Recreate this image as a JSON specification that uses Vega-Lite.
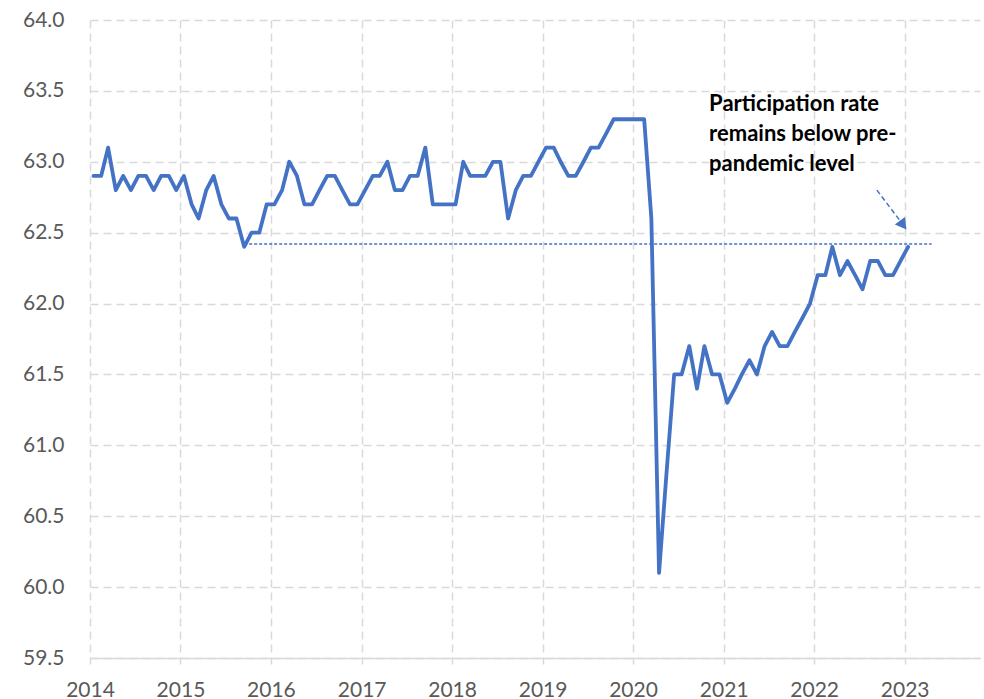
{
  "$schema": "https://vega.github.io/schema/vega-lite/v6.json",
  "width": 890,
  "height": 638,
  "autosize": {"type": "none"},
  "padding": {"left": 90, "top": 20, "right": 4, "bottom": 41},
  "background": "white",
  "config": {"view": {"stroke": null}, "font": "Lato"},
  "datasets": {
    "lfpr": [
      {"date":"2014-01-15","rate":62.9},{"date":"2014-02-15","rate":62.9},{"date":"2014-03-15","rate":63.1},{"date":"2014-04-15","rate":62.8},{"date":"2014-05-15","rate":62.9},{"date":"2014-06-15","rate":62.8},{"date":"2014-07-15","rate":62.9},{"date":"2014-08-15","rate":62.9},{"date":"2014-09-15","rate":62.8},{"date":"2014-10-15","rate":62.9},{"date":"2014-11-15","rate":62.9},{"date":"2014-12-15","rate":62.8},
      {"date":"2015-01-15","rate":62.9},{"date":"2015-02-15","rate":62.7},{"date":"2015-03-15","rate":62.6},{"date":"2015-04-15","rate":62.8},{"date":"2015-05-15","rate":62.9},{"date":"2015-06-15","rate":62.7},{"date":"2015-07-15","rate":62.6},{"date":"2015-08-15","rate":62.6},{"date":"2015-09-15","rate":62.4},{"date":"2015-10-15","rate":62.5},{"date":"2015-11-15","rate":62.5},{"date":"2015-12-15","rate":62.7},
      {"date":"2016-01-15","rate":62.7},{"date":"2016-02-15","rate":62.8},{"date":"2016-03-15","rate":63.0},{"date":"2016-04-15","rate":62.9},{"date":"2016-05-15","rate":62.7},{"date":"2016-06-15","rate":62.7},{"date":"2016-07-15","rate":62.8},{"date":"2016-08-15","rate":62.9},{"date":"2016-09-15","rate":62.9},{"date":"2016-10-15","rate":62.8},{"date":"2016-11-15","rate":62.7},{"date":"2016-12-15","rate":62.7},
      {"date":"2017-01-15","rate":62.8},{"date":"2017-02-15","rate":62.9},{"date":"2017-03-15","rate":62.9},{"date":"2017-04-15","rate":63.0},{"date":"2017-05-15","rate":62.8},{"date":"2017-06-15","rate":62.8},{"date":"2017-07-15","rate":62.9},{"date":"2017-08-15","rate":62.9},{"date":"2017-09-15","rate":63.1},{"date":"2017-10-15","rate":62.7},{"date":"2017-11-15","rate":62.7},{"date":"2017-12-15","rate":62.7},
      {"date":"2018-01-15","rate":62.7},{"date":"2018-02-15","rate":63.0},{"date":"2018-03-15","rate":62.9},{"date":"2018-04-15","rate":62.9},{"date":"2018-05-15","rate":62.9},{"date":"2018-06-15","rate":63.0},{"date":"2018-07-15","rate":63.0},{"date":"2018-08-15","rate":62.6},{"date":"2018-09-15","rate":62.8},{"date":"2018-10-15","rate":62.9},{"date":"2018-11-15","rate":62.9},{"date":"2018-12-15","rate":63.0},
      {"date":"2019-01-15","rate":63.1},{"date":"2019-02-15","rate":63.1},{"date":"2019-03-15","rate":63.0},{"date":"2019-04-15","rate":62.9},{"date":"2019-05-15","rate":62.9},{"date":"2019-06-15","rate":63.0},{"date":"2019-07-15","rate":63.1},{"date":"2019-08-15","rate":63.1},{"date":"2019-09-15","rate":63.2},{"date":"2019-10-15","rate":63.3},{"date":"2019-11-15","rate":63.3},{"date":"2019-12-15","rate":63.3},
      {"date":"2020-01-15","rate":63.3},{"date":"2020-02-15","rate":63.3},{"date":"2020-03-15","rate":62.6},{"date":"2020-04-15","rate":60.1},{"date":"2020-05-15","rate":60.8},{"date":"2020-06-15","rate":61.5},{"date":"2020-07-15","rate":61.5},{"date":"2020-08-15","rate":61.7},{"date":"2020-09-15","rate":61.4},{"date":"2020-10-15","rate":61.7},{"date":"2020-11-15","rate":61.5},{"date":"2020-12-15","rate":61.5},
      {"date":"2021-01-15","rate":61.3},{"date":"2021-02-15","rate":61.4},{"date":"2021-03-15","rate":61.5},{"date":"2021-04-15","rate":61.6},{"date":"2021-05-15","rate":61.5},{"date":"2021-06-15","rate":61.7},{"date":"2021-07-15","rate":61.8},{"date":"2021-08-15","rate":61.7},{"date":"2021-09-15","rate":61.7},{"date":"2021-10-15","rate":61.8},{"date":"2021-11-15","rate":61.9},{"date":"2021-12-15","rate":62.0},
      {"date":"2022-01-15","rate":62.2},{"date":"2022-02-15","rate":62.2},{"date":"2022-03-15","rate":62.4},{"date":"2022-04-15","rate":62.2},{"date":"2022-05-15","rate":62.3},{"date":"2022-06-15","rate":62.2},{"date":"2022-07-15","rate":62.1},{"date":"2022-08-15","rate":62.3},{"date":"2022-09-15","rate":62.3},{"date":"2022-10-15","rate":62.2},{"date":"2022-11-15","rate":62.2},{"date":"2022-12-15","rate":62.3},
      {"date":"2023-01-15","rate":62.4}
    ],
    "refline": [{"date":"2015-09-15","date2":"2023-04-20","rate":62.42}],
    "arrow": [{"date":"2022-09-11","rate":62.80},{"date":"2022-12-12","rate":62.587}],
    "arrowhead": [{"date":"2022-12-26","rate":62.553}],
    "note": [{"date":"2020-11-03","rate":63.36,"label":"Participation rate\nremains below pre-\npandemic level"}]
  },
  "layer": [
    {
      "data": {"name": "lfpr"},
      "mark": {"type": "line", "color": "#4472C4", "strokeWidth": 3.8, "strokeJoin": "round", "strokeCap": "round"},
      "encoding": {
        "x": {
          "field": "date", "type": "temporal",
          "scale": {"type": "utc", "domain": [{"year": 2014, "month": 1, "date": 1, "utc": true}, {"year": 2023, "month": 11, "date": 1, "utc": true}]},
          "axis": {
            "title": null, "format": "%Y",
            "values": [
              {"year": 2014, "month": 1, "date": 1, "utc": true},{"year": 2015, "month": 1, "date": 1, "utc": true},{"year": 2016, "month": 1, "date": 1, "utc": true},{"year": 2017, "month": 1, "date": 1, "utc": true},{"year": 2018, "month": 1, "date": 1, "utc": true},{"year": 2019, "month": 1, "date": 1, "utc": true},{"year": 2020, "month": 1, "date": 1, "utc": true},{"year": 2021, "month": 1, "date": 1, "utc": true},{"year": 2022, "month": 1, "date": 1, "utc": true},{"year": 2023, "month": 1, "date": 1, "utc": true}
            ],
            "grid": true, "gridDash": [8, 5], "gridColor": "#D9D9D9", "gridWidth": 1.5,
            "domainColor": "#D9D9D9", "domainWidth": 1.5,
            "ticks": true, "tickColor": "#D9D9D9", "tickSize": 6, "tickWidth": 1.5,
            "labelFont": "Lato", "labelFontSize": 21, "labelColor": "#595959", "labelPadding": 15, "labelFlush": false, "labelOverlap": false
          }
        },
        "y": {
          "field": "rate", "type": "quantitative",
          "scale": {"domain": [59.5, 64], "nice": false, "zero": false},
          "axis": {
            "title": null, "format": ".1f",
            "values": [59.5, 60, 60.5, 61, 61.5, 62, 62.5, 63, 63.5, 64],
            "grid": true, "gridDash": [8, 5], "gridColor": "#D9D9D9", "gridWidth": 1.5,
            "domain": false, "ticks": false,
            "labelFont": "Lato", "labelFontSize": 21, "labelColor": "#595959", "labelPadding": 26
          }
        }
      }
    },
    {
      "data": {"name": "refline"},
      "mark": {"type": "rule", "color": "#4472C4", "strokeWidth": 1.3, "strokeDash": [3, 2]},
      "encoding": {
        "x": {"field": "date", "type": "temporal"},
        "x2": {"field": "date2"},
        "y": {"field": "rate", "type": "quantitative"}
      }
    },
    {
      "data": {"name": "arrow"},
      "mark": {"type": "line", "color": "#4472C4", "strokeWidth": 1.5, "strokeDash": [5, 3]},
      "encoding": {
        "x": {"field": "date", "type": "temporal"},
        "y": {"field": "rate", "type": "quantitative"}
      }
    },
    {
      "data": {"name": "arrowhead"},
      "mark": {"type": "point", "shape": "triangle-down", "filled": true, "color": "#4472C4", "opacity": 1, "size": 160, "angle": 323},
      "encoding": {
        "x": {"field": "date", "type": "temporal"},
        "y": {"field": "rate", "type": "quantitative"}
      }
    },
    {
      "data": {"name": "note"},
      "mark": {"type": "text", "align": "left", "baseline": "alphabetic", "font": "Lato", "fontSize": 22, "fontWeight": "bold", "color": "#000000", "lineBreak": "\n", "lineHeight": 30},
      "encoding": {
        "x": {"field": "date", "type": "temporal"},
        "y": {"field": "rate", "type": "quantitative"},
        "text": {"field": "label"}
      }
    }
  ]
}
